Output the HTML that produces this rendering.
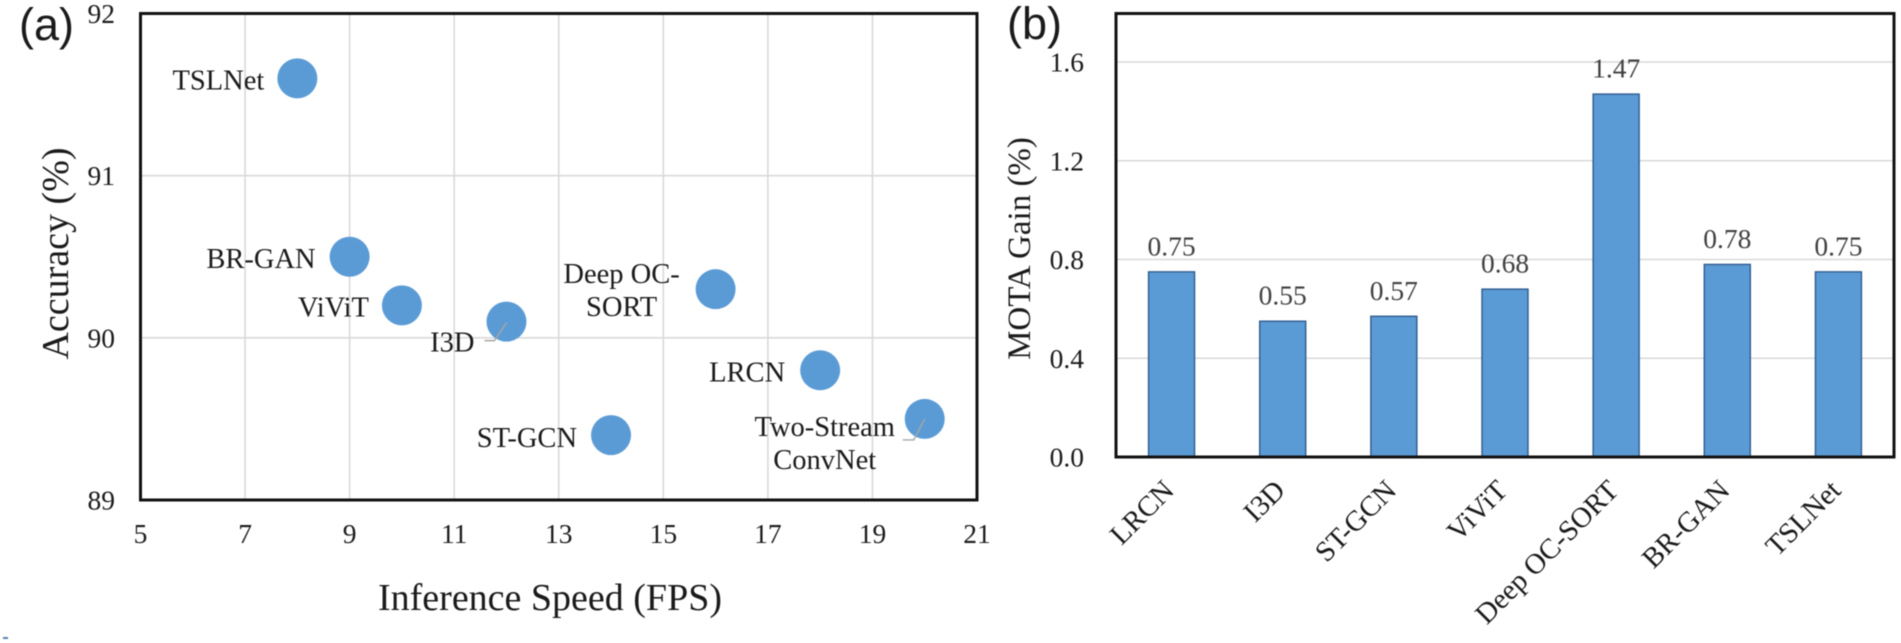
<!DOCTYPE html>
<html lang="en">
<head>
<meta charset="utf-8">
<title>Accuracy vs Inference Speed and MOTA Gain</title>
<style>
html,body{margin:0;padding:0;background:#fff;width:1901px;height:643px;overflow:hidden}
svg{display:block;filter:blur(0.45px)}
text{font-family:"Liberation Serif",serif;fill:#1a1a1a}
</style>
</head>
<body>
<svg id="figure" xmlns="http://www.w3.org/2000/svg" width="1901" height="643" viewBox="0 0 1901 643">
  <rect x="0" y="0" width="1901" height="643" fill="#ffffff"/>
  <g id="panelA"></g>
  <g id="panelB"></g>
  <text x="19" y="40" font-size="45" style="font-family:'Liberation Sans',sans-serif">(a)</text>
  <text x="1007" y="39" font-size="45" style="font-family:'Liberation Sans',sans-serif">(b)</text>
  <text x="550" y="610" font-size="38" text-anchor="middle">Inference Speed (FPS)</text>
  <text transform="translate(68,253.5) rotate(-90)" font-size="38" text-anchor="middle">Accuracy (%)</text>
  <text transform="translate(1030,248.5) rotate(-90)" font-size="33" text-anchor="middle">MOTA Gain (%)</text>
  <rect x="3" y="637" width="5" height="2" fill="#5b7fa8"/>
</svg>
<script>
// Panel (a) data
const scatterNames = ["TSLNet", "BR-GAN", "ViViT", "I3D", "Deep OC-SORT", "LRCN", "ST-GCN", "Two-Stream ConvNet"];
const scatterFps = [8, 9, 10, 12, 16, 18, 14, 20];
const scatterAccuracy = [91.6, 90.5, 90.2, 90.1, 90.3, 89.8, 89.4, 89.5];
const scatterXTicks = [5, 7, 9, 11, 13, 15, 17, 19, 21];
const scatterYTicks = [89, 90, 91, 92];

// Panel (b) data
const barCategories = ["LRCN", "I3D", "ST-GCN", "ViViT", "Deep OC-SORT", "BR-GAN", "TSLNet"];
const barValues = [0.75, 0.55, 0.57, 0.68, 1.47, 0.78, 0.75];
const barYTicks = [0.0, 0.4, 0.8, 1.2, 1.6];

const NS = "http://www.w3.org/2000/svg";
function make(parent, tag, attrs, content) {
  const el = document.createElementNS(NS, tag);
  for (const k in attrs) el.setAttribute(k, attrs[k]);
  if (content !== undefined) el.textContent = content;
  parent.appendChild(el);
  return el;
}
function slug(s) { return String(s).toLowerCase().replace(/[^a-z0-9]+/g, "-"); }

// Panel (a) axes
const A = { left: 140.5, right: 977, top: 13.5, bottom: 500, xMin: 5, xMax: 21, yMin: 89, yMax: 92 };
const ax = v => A.left + (v - A.xMin) / (A.xMax - A.xMin) * (A.right - A.left);
const ay = v => A.bottom - (v - A.yMin) / (A.yMax - A.yMin) * (A.bottom - A.top);
const panelA = document.getElementById("panelA");

scatterXTicks.forEach(t => {
  if (t !== A.xMin && t !== A.xMax) {
    const g = make(panelA, "line", { x1: ax(t), x2: ax(t), y1: A.top, y2: A.bottom, stroke: "#d9d9d9", "stroke-width": 1.6 });
    
    
  }
  const l = make(panelA, "text", { x: ax(t), y: 543, "font-size": 27.5, "text-anchor": "middle" }, t);
  
  
});
scatterYTicks.forEach(t => {
  if (t !== A.yMin && t !== A.yMax) {
    const g = make(panelA, "line", { x1: A.left, x2: A.right, y1: ay(t), y2: ay(t), stroke: "#d9d9d9", "stroke-width": 1.6 });
    
    
  }
  const l = make(panelA, "text", { x: 115, y: ay(t) + 9.5, "font-size": 27.5, "text-anchor": "end" }, t);
  
  
});
const frameA = make(panelA, "rect", { x: A.left, y: A.top, width: A.right - A.left, height: A.bottom - A.top, fill: "none", stroke: "#111", "stroke-width": 3 });



// Label placement relative to each marker (layout, not data)
const labelPlacement = {
  "TSLNet": { lines: ["TSLNet"], anchor: "end", dx: -33, dy: [11] },
  "BR-GAN": { lines: ["BR-GAN"], anchor: "end", dx: -34, dy: [11] },
  "ViViT": { lines: ["ViViT"], anchor: "end", dx: -33, dy: [11] },
  "I3D": { lines: ["I3D"], anchor: "end", dx: -32, dy: [30], leader: [[0, 1], [-12, 19], [-22, 19]] },
  "Deep OC-SORT": { lines: ["Deep OC-", "SORT"], anchor: "middle", dx: -94, dy: [-6, 27] },
  "LRCN": { lines: ["LRCN"], anchor: "end", dx: -35, dy: [11] },
  "ST-GCN": { lines: ["ST-GCN"], anchor: "end", dx: -34, dy: [12] },
  "Two-Stream ConvNet": { lines: ["Two-Stream", "ConvNet"], anchor: "middle", dx: -100, dy: [17, 50], leader: [[0, 0], [-11, 21], [-22, 21]] }
};

scatterNames.forEach((name, i) => {
  const cx = ax(scatterFps[i]);
  const cy = ay(scatterAccuracy[i]);
  const dot = make(panelA, "circle", { cx: cx, cy: cy, r: 20, fill: "#5b9bd5" });
  
  
  const p = labelPlacement[name];
  if (p.leader) {
    const pts = p.leader.map(o => (cx + o[0]) + "," + (cy + o[1])).join(" ");
    const lead = make(panelA, "polyline", { points: pts, fill: "none", stroke: "#a6a6a6", "stroke-width": 1.4 });
    
    
  }
  p.lines.forEach((line, k) => {
    const t = make(panelA, "text", { x: cx + p.dx, y: cy + p.dy[k], "font-size": 28.5, "text-anchor": p.anchor }, line);
    
    
  });
});

// Panel (b) axes
const B = { left: 1116, right: 1894, top: 13.5, bottom: 457, yMin: 0, yTop: 1.6, yTopPx: 62, barWidth: 46 };
const by = v => B.bottom - (v - B.yMin) / (B.yTop - B.yMin) * (B.bottom - B.yTopPx);
const bx = i => B.left + (i + 0.5) * (B.right - B.left) / barCategories.length;
const panelB = document.getElementById("panelB");

barYTicks.forEach(t => {
  if (t !== 0) {
    const g = make(panelB, "line", { x1: B.left, x2: B.right, y1: by(t), y2: by(t), stroke: "#d9d9d9", "stroke-width": 1.6 });
    
    
  }
  const l = make(panelB, "text", { x: 1084, y: by(t) + 9.5, "font-size": 27.5, "text-anchor": "end" }, t.toFixed(1));
  
  
});
barCategories.forEach((name, i) => {
  const c = bx(i);
  const top = by(barValues[i]);
  const bar = make(panelB, "rect", { x: c - B.barWidth / 2, y: top, width: B.barWidth, height: B.bottom - top, fill: "#5b9bd5", stroke: "#2f5b8f", "stroke-width": 1.4 });
  
  
  const v = make(panelB, "text", { x: c, y: top - 16.5, "font-size": 27.5, "text-anchor": "middle" }, barValues[i].toFixed(2));
  v.style.fill = "#404040";
  
  
  const px = c + 4;
  const py = 492;
  const cat = make(panelB, "text", { transform: "translate(" + px + "," + py + ") rotate(-45)", "font-size": 28.7, "text-anchor": "end" }, name);
  
  
});
const frameB = make(panelB, "rect", { x: B.left, y: B.top, width: B.right - B.left, height: B.bottom - B.top, fill: "none", stroke: "#111", "stroke-width": 3 });


</script>
</body>
</html>
